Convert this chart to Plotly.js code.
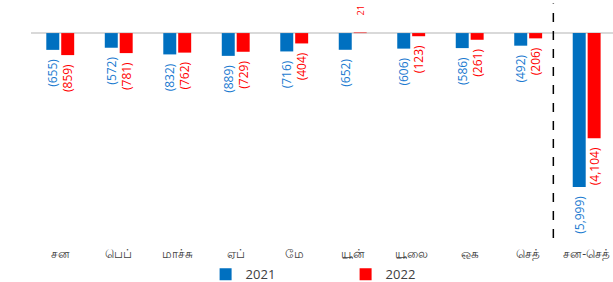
<!DOCTYPE html>
<html>
<head>
<meta charset="utf-8">
<script src="https://cdn.plot.ly/plotly-3.0.1.min.js"></script>
<style>html,body{margin:0;padding:0;background:#fff;}#chart{width:613px;height:282px;}</style>
</head>
<body>
<div id="chart"></div>
<script>
const categories = ["சன", "பெப்", "மாச்சு", "ஏப்", "மே", "யூன்", "யூலை", "ஓக", "செத்", "சன-செத்"];
const values2021 = [-655, -572, -832, -889, -716, -652, -606, -586, -492, -5999];
const values2022 = [-859, -781, -762, -729, -404, 21, -123, -261, -206, -4104];
const seriesNames = ["2021", "2022"];

const pad = '\u00a0\u00a0';
function fmt(v) {
  const s = Math.abs(v).toLocaleString('en-US');
  return v < 0 ? '(' + s + ')' + pad : pad + pad + pad + s;
}

const blue = '#0070C0', red = '#FF0000';
function sizes(vals) { return vals.map(v => v < 0 ? 12 : 9); }
const traces = [
  {type: 'bar', name: seriesNames[0], x: categories, y: values2021, marker: {color: blue},
   text: values2021.map(fmt), textposition: 'outside', textangle: -90, cliponaxis: false,
   constraintext: 'none',
   textfont: {family: 'Open Sans, sans-serif', size: sizes(values2021), color: '#1a7ad0'}, hoverinfo: 'none'},
  {type: 'bar', name: seriesNames[1], x: categories, y: values2022, marker: {color: red},
   text: values2022.map(fmt), textposition: 'outside', textangle: -90, cliponaxis: false,
   constraintext: 'none',
   textfont: {family: 'Open Sans, sans-serif', size: sizes(values2022), color: red}, hoverinfo: 'none'}
];

const layout = {
  width: 613, height: 282,
  margin: {l: 31, r: 0, t: 0, b: 42, autoexpand: false},
  paper_bgcolor: '#fff', plot_bgcolor: '#fff',
  barmode: 'group', bargap: 0.49, bargroupgap: 0.13,
  showlegend: true,
  legend: {orientation: 'h', x: 0.3, xanchor: 'left', y: -0.08, yanchor: 'top',
           font: {family: 'Open Sans, sans-serif', size: 13, color: '#404040'},
           entrywidth: 95, itemwidth: 30},
  xaxis: {type: 'category', range: [-0.5, 9.45], showgrid: false, showline: false, ticks: '',
          ticklabelstandoff: 5,
          tickfont: {family: 'Noto Sans, sans-serif', size: 12, color: '#404040'}},
  yaxis: {range: [-8070, 1290], showgrid: false, showticklabels: false, ticks: '',
          zeroline: true, zerolinecolor: '#d9d9d9', zerolinewidth: 1.5, showline: false},
  shapes: [{type: 'line', xref: 'x', yref: 'paper', x0: 8.43, x1: 8.43, y0: 0.008, y1: 0.985,
            line: {color: '#000', width: 1.5, dash: 'dash'}}]
};

Plotly.newPlot('chart', traces, layout, {displayModeBar: false, staticPlot: true});
</script>
</body>
</html>
